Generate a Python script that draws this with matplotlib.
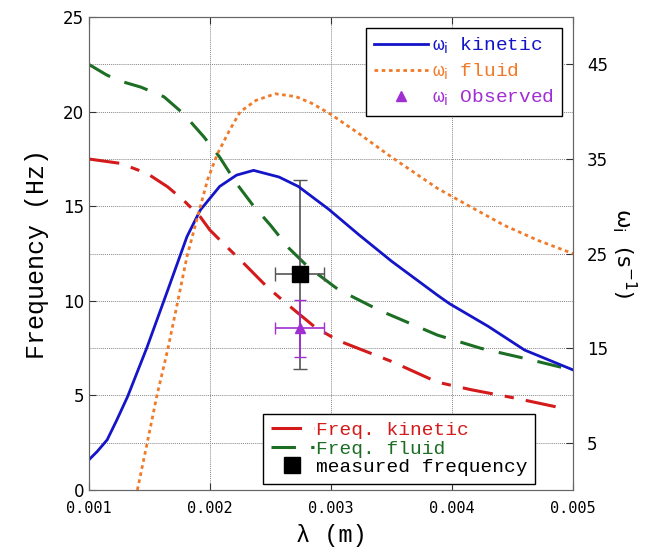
import numpy as np
import matplotlib
matplotlib.use('Agg')
import matplotlib.pyplot as plt
from matplotlib.lines import Line2D

# growth rate omega_i (s^-1), right axis
lam_kin = [0.001, 0.00107, 0.00115, 0.00123, 0.00132, 0.00148, 0.00165, 0.00181, 0.00192,
           0.00208, 0.00222, 0.00236, 0.00257, 0.00273, 0.00298, 0.00323, 0.0035, 0.00388,
           0.00398, 0.0043, 0.0046, 0.005]
wi_kin = [3.2, 4.1, 5.3, 7.4, 9.9, 15.1, 21.1, 26.8, 29.6,
          32.1, 33.3, 33.8, 33.1, 32.1, 29.7, 27.0, 24.2, 20.6,
          19.7, 17.3, 14.8, 12.7]

lam_fl = [0.0014, 0.00148, 0.00156, 0.00165, 0.00173, 0.00181, 0.0019, 0.00198, 0.00206,
          0.00216, 0.00225, 0.00238, 0.00254, 0.00271, 0.00284, 0.00299, 0.00323, 0.0035,
          0.00388, 0.00416, 0.00443, 0.00471, 0.005]
wi_fl = [0.0, 4.9, 9.9, 14.8, 19.7, 24.7, 29.0, 32.8, 35.5,
         38.0, 40.0, 41.2, 41.9, 41.6, 40.9, 39.8, 37.7, 35.2,
         31.9, 29.9, 28.0, 26.4, 25.0]

# frequency (Hz), left axis
lam_fk = [0.001, 0.00126, 0.00148, 0.00165, 0.00178, 0.00192, 0.002, 0.00211, 0.00228,
          0.00247, 0.00263, 0.00287, 0.00306, 0.0035, 0.00388, 0.00416, 0.00452, 0.00491]
f_kin = [17.5, 17.27, 16.74, 16.03, 15.33, 14.44, 13.74, 13.04, 11.98,
         10.75, 9.87, 8.6, 7.9, 6.8, 5.7, 5.3, 4.86, 4.33]

lam_ff = [0.001, 0.00115, 0.00126, 0.00143, 0.00162, 0.00178, 0.00195, 0.00208, 0.00222,
          0.00235, 0.0025, 0.00265, 0.00281, 0.00306, 0.0034, 0.00388, 0.00424, 0.0046, 0.005]
f_fl = [22.5, 21.93, 21.62, 21.3, 20.79, 19.9, 18.67, 17.6, 16.2,
        15.1, 14.0, 12.8, 11.8, 10.6, 9.5, 8.19, 7.49, 6.96, 6.34]

# measurements
lam_meas = 0.00274
lam_err = 0.0002
f_meas = 11.4
f_err = 5.0
wi_obs = 17.1
wi_err = 3.0

c_blue = '#1414c8'
c_orange = '#f07a28'
c_red = '#d41a1a'
c_green = '#1c6e24'
c_purple = '#a02ed2'

mono = 'Liberation Mono'

fig = plt.figure(figsize=(6.59, 5.54), dpi=100)
ax = fig.add_axes([0.135, 0.1155, 0.7345, 0.8535])
ax2 = ax.twinx()

ax.set_xlim(0.001, 0.005)
ax.set_ylim(0, 25)
ax2.set_ylim(0, 50)

ax.set_xticks([0.001, 0.002, 0.003, 0.004, 0.005])
ax.set_xticklabels(['0.001', '0.002', '0.003', '0.004', '0.005'], family='DejaVu Sans Mono', fontsize=11)
ax.set_yticks([0, 5, 10, 15, 20, 25])
ax.set_yticks(np.arange(2.5, 25, 5), minor=True)
ax2.set_yticks([5, 15, 25, 35, 45])
ax.tick_params(axis='y', labelsize=12, direction='in', length=5, colors='#333333', labelcolor='black')
ax.tick_params(axis='y', which='minor', length=0)
ax.tick_params(axis='x', direction='in', length=5, top=True, colors='#333333', labelcolor='black', pad=8)
ax2.tick_params(axis='y', labelsize=12, direction='in', length=5, colors='#333333', labelcolor='black', pad=10)

ax.grid(True, which='both', color='#888888', linestyle=(0, (1, 1)), linewidth=0.7)
for a in (ax, ax2):
    for s in a.spines.values():
        s.set_color('#666666')

ax.plot(lam_fk, f_kin, color=c_red, lw=2.2, dashes=(10, 4, 3, 4))
ax.plot(lam_ff, f_fl, color=c_green, lw=2.2, dashes=(8, 5))
ax.errorbar(lam_meas, f_meas, xerr=lam_err, yerr=f_err, fmt='s', color='black',
            ms=11, ecolor='#555555', elinewidth=1.2, capsize=5, zorder=5)

ax2.plot(lam_kin, wi_kin, color=c_blue, lw=2)
ax2.plot(lam_fl, wi_fl, color=c_orange, lw=2, dashes=(1.3, 1.3))
ax2.errorbar(lam_meas, wi_obs, xerr=lam_err, yerr=wi_err, fmt='^', color=c_purple,
             ms=7, ecolor=c_purple, elinewidth=1.2, capsize=4, zorder=5)

ax.set_ylabel('Frequency (Hz)', family=mono, fontsize=18, labelpad=10)
ax.set_xlabel('λ (m)', family=mono, fontsize=17, labelpad=6)
ax2.set_ylabel(r'ω$_\mathrm{i}$  (s$^{-1}$)', fontsize=16,
               rotation=-90, labelpad=22)

h1 = [Line2D([], [], color=c_blue, lw=2),
      Line2D([], [], color=c_orange, lw=2, dashes=(1.3, 1.3)),
      Line2D([], [], color=c_purple, marker='^', ls='none', ms=7)]
l1 = [r'ω$_\mathrm{i}$ kinetic', r'ω$_\mathrm{i}$ fluid', r'ω$_\mathrm{i}$ Observed']
h2 = [Line2D([], [], color=c_red, lw=2.2, dashes=(10, 4, 3, 4)),
      Line2D([], [], color=c_green, lw=2.2, dashes=(8, 5)),
      Line2D([], [], color='black', marker='s', ls='none', ms=11)]
l2 = ['Freq. kinetic', 'Freq. fluid', 'measured frequency']

leg1 = ax2.legend(h1, l1, loc='upper right', bbox_to_anchor=(0.977, 0.977),
                  prop={'family': mono, 'size': 14}, fancybox=False, framealpha=1,
                  edgecolor='black', handlelength=2.8, handletextpad=0.2,
                  labelspacing=0.3, borderaxespad=0)
for t, c in zip(leg1.get_texts(), [c_blue, c_orange, c_purple]):
    t.set_color(c)
ax2.add_artist(leg1)

leg2 = ax2.legend(h2, l2, loc='lower left', bbox_to_anchor=(0.36, 0.013),
                  prop={'family': mono, 'size': 14}, fancybox=False, framealpha=1,
                  edgecolor='black', handlelength=2.2, handletextpad=0.1,
                  labelspacing=0.05, borderaxespad=0)
for t, c in zip(leg2.get_texts(), [c_red, c_green, 'black']):
    t.set_color(c)

fig.savefig('out.png', dpi=100)
